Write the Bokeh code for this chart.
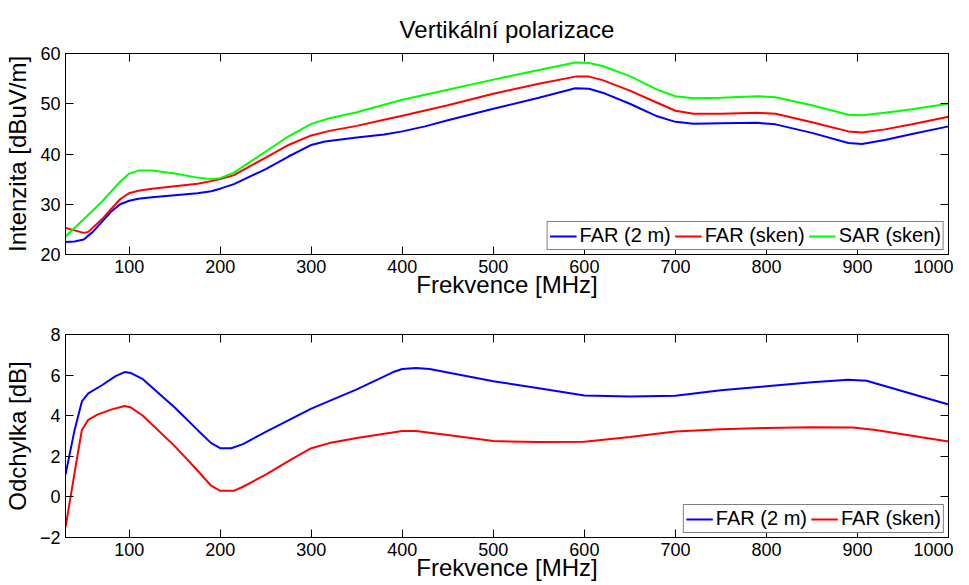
from bokeh.plotting import figure
from bokeh.models import Range1d, LinearAxis, FixedTicker, Legend, LegendItem, CustomLabelingPolicy
from bokeh.layouts import column
from bokeh.embed import file_html
from bokeh.resources import INLINE

FONT = "Liberation Sans"

# ---- top panel: intensity [dBuV/m] ----
far2m_f = [30, 40, 50, 60, 70, 80, 90, 100, 110, 125, 150, 175, 190, 200, 215, 250, 275, 300, 315, 350, 380, 400, 425, 450, 500, 550, 590, 605, 620, 650, 680, 700, 720, 750, 790, 810, 850, 890, 905, 930, 960, 1000]
far2m_v = [22.5, 22.6, 23.0, 24.5, 26.5, 28.5, 30.0, 30.7, 31.1, 31.4, 31.8, 32.2, 32.6, 33.1, 34.0, 37.0, 39.5, 41.8, 42.5, 43.3, 43.9, 44.5, 45.5, 46.7, 49.0, 51.2, 53.1, 53.0, 52.2, 50.0, 47.5, 46.4, 46.0, 46.1, 46.2, 45.9, 44.2, 42.2, 42.0, 42.8, 44.0, 45.5]

farsk_f = [30, 40, 50, 55, 70, 80, 90, 100, 110, 125, 150, 175, 190, 200, 215, 250, 275, 300, 320, 350, 380, 400, 450, 500, 550, 590, 605, 620, 650, 680, 700, 720, 750, 790, 810, 850, 890, 905, 930, 960, 1000]
farsk_v = [25.3, 24.8, 24.3, 24.5, 27.0, 29.0, 31.0, 32.2, 32.7, 33.1, 33.6, 34.1, 34.6, 35.0, 35.8, 39.3, 41.8, 43.7, 44.6, 45.6, 46.8, 47.6, 49.7, 52.0, 54.0, 55.4, 55.4, 54.7, 52.6, 50.2, 48.6, 48.0, 48.0, 48.2, 48.0, 46.3, 44.5, 44.3, 44.9, 45.9, 47.4]

sarsk_f = [30, 50, 70, 90, 100, 110, 125, 150, 175, 190, 200, 215, 250, 275, 300, 320, 350, 400, 450, 500, 550, 590, 605, 620, 650, 680, 700, 720, 750, 790, 810, 850, 890, 905, 930, 960, 1000]
sarsk_v = [23.6, 27.0, 30.5, 34.5, 36.1, 36.7, 36.7, 36.1, 35.3, 35.0, 35.2, 36.3, 40.5, 43.5, 46.0, 47.1, 48.3, 50.8, 52.8, 54.8, 56.7, 58.2, 58.1, 57.5, 55.5, 52.8, 51.5, 51.1, 51.2, 51.5, 51.3, 49.7, 47.8, 47.7, 48.2, 48.9, 50.0]

# ---- bottom panel: deviation [dB] ----
dev2m_f = [30, 40, 48, 55, 70, 85, 95, 102, 115, 150, 175, 190, 200, 212, 225, 250, 300, 350, 390, 400, 415, 430, 500, 550, 600, 650, 700, 750, 800, 850, 890, 910, 1000]
dev2m_v = [1.1, 3.3, 4.7, 5.1, 5.5, 5.95, 6.15, 6.1, 5.8, 4.4, 3.3, 2.65, 2.4, 2.4, 2.6, 3.2, 4.35, 5.3, 6.15, 6.3, 6.35, 6.3, 5.7, 5.35, 5.0, 4.95, 4.98, 5.25, 5.45, 5.65, 5.77, 5.72, 4.55]

devsk_f = [30, 40, 48, 55, 65, 80, 95, 102, 115, 150, 175, 190, 200, 215, 225, 250, 280, 300, 320, 350, 400, 415, 450, 500, 550, 600, 650, 700, 750, 800, 850, 895, 920, 1000]
devsk_v = [-1.5, 1.2, 3.3, 3.8, 4.05, 4.3, 4.48, 4.4, 4.0, 2.5, 1.3, 0.55, 0.3, 0.3, 0.5, 1.1, 1.9, 2.4, 2.65, 2.9, 3.25, 3.25, 3.05, 2.75, 2.7, 2.72, 2.95, 3.22, 3.33, 3.4, 3.43, 3.42, 3.3, 2.73]

x_ticks = [100, 200, 300, 400, 500, 600, 700, 800, 900, 1000]
top_yticks = [20, 30, 40, 50, 60]
bot_yticks = [-2, 0, 2, 4, 6, 8]
bot_ylabels = {-2: "\u22122", 0: "0", 2: "2", 4: "4", 6: "6", 8: "8"}

title_text = "Vertikální polarizace"
x_label = "Frekvence [MHz]"
top_ylabel = "Intenzita [dBuV/m]"
bot_ylabel = "Odchylka [dB]"

NO_LABELS = "const n = indices.size; for (let i = 0; i < n; i++) { indices.unset(i) } return indices"


def style_axis(ax, ticks, show_labels=True, overrides=None):
    ax.ticker = FixedTicker(ticks=ticks)
    ax.major_tick_in = 8
    ax.major_tick_out = 0
    ax.minor_tick_in = 0
    ax.minor_tick_out = 0
    ax.axis_line_color = "black"
    ax.major_tick_line_color = "black"
    ax.major_label_text_font = FONT
    ax.major_label_text_color = "black"
    if show_labels:
        ax.major_label_text_font_size = "18px"
        ax.major_label_standoff = 5
    else:
        ax.major_label_text_font_size = "1px"
        ax.major_label_policy = CustomLabelingPolicy(code=NO_LABELS)
        ax.major_label_standoff = 0
    if overrides:
        ax.major_label_overrides = overrides
    ax.axis_label_text_font = FONT
    ax.axis_label_text_font_size = "24px"
    ax.axis_label_text_font_style = "normal"
    ax.axis_label_text_color = "black"


def make_fig(height, ylo, yhi, border_top):
    p = figure(width=953, height=height, output_backend="svg", toolbar_location=None,
               x_range=Range1d(30, 1000), y_range=Range1d(ylo, yhi),
               min_border_left=57, min_border_right=5, min_border_top=border_top,
               min_border_bottom=10)
    p.grid.visible = False
    p.outline_line_color = "black"
    p.outline_line_width = 1
    p.background_fill_color = "white"
    p.border_fill_color = "white"
    return p


def make_legend(p, items):
    lg = Legend(items=items, location="bottom_right", orientation="horizontal")
    lg.label_text_font = FONT
    lg.label_text_font_size = "20px"
    lg.label_text_color = "black"
    lg.glyph_width = 27
    lg.glyph_height = 20
    lg.label_standoff = 3
    lg.spacing = 4
    lg.padding = 2
    lg.margin = 4
    lg.border_line_color = "black"
    lg.border_line_width = 1
    lg.background_fill_alpha = 1
    p.add_layout(lg)


# ---- top figure ----
p1 = make_fig(300, 20, 60, 53)
p1.title.text = title_text
p1.title.align = "center"
p1.title.text_font = FONT
p1.title.text_font_size = "24px"
p1.title.text_font_style = "normal"
p1.title.text_color = "black"
p1.title.standoff = 13

r1 = p1.line(far2m_f, far2m_v, line_color="#0000ff", line_width=2)
r2 = p1.line(farsk_f, farsk_v, line_color="#ff0000", line_width=2)
r3 = p1.line(sarsk_f, sarsk_v, line_color="#00ff00", line_width=2)

style_axis(p1.xaxis[0], x_ticks)
style_axis(p1.yaxis[0], top_yticks)
p1.xaxis[0].axis_label = x_label
p1.xaxis[0].axis_label_standoff = -5
p1.yaxis[0].axis_label = top_ylabel
p1.yaxis[0].axis_label_standoff = 6
ax_t = LinearAxis()
style_axis(ax_t, x_ticks, show_labels=False)
p1.add_layout(ax_t, "above")
ax_r = LinearAxis()
style_axis(ax_r, top_yticks, show_labels=False)
p1.add_layout(ax_r, "right")

make_legend(p1, [LegendItem(label="FAR (2 m)", renderers=[r1]),
                 LegendItem(label="FAR (sken)", renderers=[r2]),
                 LegendItem(label="SAR (sken)", renderers=[r3])])

# ---- bottom figure ----
p2 = make_fig(283, -2, 8, 34)
s1 = p2.line(dev2m_f, dev2m_v, line_color="#0000ff", line_width=2)
s2 = p2.line(devsk_f, devsk_v, line_color="#ff0000", line_width=2)

style_axis(p2.xaxis[0], x_ticks)
style_axis(p2.yaxis[0], bot_yticks, overrides=bot_ylabels)
p2.xaxis[0].axis_label = x_label
p2.xaxis[0].axis_label_standoff = -5
p2.yaxis[0].axis_label = bot_ylabel
p2.yaxis[0].axis_label_standoff = 6
ax_t2 = LinearAxis()
style_axis(ax_t2, x_ticks, show_labels=False)
p2.add_layout(ax_t2, "above")
ax_r2 = LinearAxis()
style_axis(ax_r2, bot_yticks, show_labels=False)
p2.add_layout(ax_r2, "right")

make_legend(p2, [LegendItem(label="FAR (2 m)", renderers=[s1]),
                 LegendItem(label="FAR (sken)", renderers=[s2])])

layout = column(p1, p2, spacing=0)
open("out.html", "w").write(file_html(layout, INLINE))
